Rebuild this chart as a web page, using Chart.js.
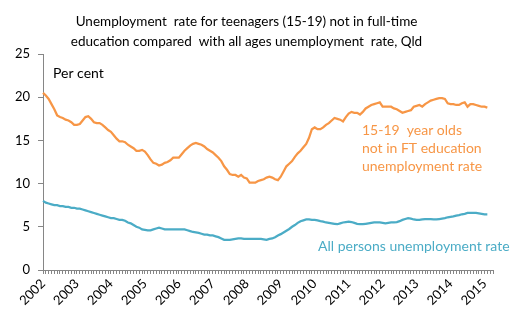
<!DOCTYPE html>
<html>
<head>
<meta charset="utf-8">
<script src="https://cdn.jsdelivr.net/npm/chart.js@4"></script>
<style>
  html, body { margin: 0; padding: 0; background: #fff; }
  #wrap { width: 525px; height: 333px; }
</style>
</head>
<body>
<div id="wrap"><canvas id="chart"></canvas></div>
<script>
// monthly, Jan 2002 .. Feb 2015 (axis runs on to Apr 2015)
var firstYear = 2002;
var monthCount = 160;

var teenRate = [
  20.5, 20.2, 19.8, 19.2, 18.6, 17.9, 17.7, 17.6, 17.4, 17.3, 17.1, 16.8,
  16.8, 16.9, 17.3, 17.7, 17.8, 17.5, 17.1, 17.0, 17.0, 16.8, 16.5, 16.2,
  16.0, 15.6, 15.2, 14.9, 14.9, 14.8, 14.5, 14.3, 14.1, 13.8, 13.8, 13.9,
  13.7, 13.3, 12.8, 12.4, 12.3, 12.1, 12.2, 12.4, 12.5, 12.7, 13.0, 13.0,
  13.0, 13.4, 13.8, 14.1, 14.4, 14.6, 14.7, 14.6, 14.5, 14.3, 14.0, 13.8,
  13.6, 13.3, 13.0, 12.6, 12.0, 11.6, 11.1, 11.0, 11.0, 10.8, 11.0, 10.7,
  10.6, 10.1, 10.1, 10.1, 10.3, 10.4, 10.5, 10.7, 10.8, 10.7, 10.5, 10.4,
  10.8, 11.4, 12.0, 12.3, 12.6, 13.1, 13.5, 13.8, 14.2, 14.6, 15.3, 16.3,
  16.5, 16.3, 16.3, 16.5, 16.8, 17.0, 17.3, 17.6, 17.5, 17.4, 17.2, 17.7,
  18.1, 18.3, 18.2, 18.2, 18.0, 18.3, 18.7, 18.9, 19.1, 19.2, 19.3, 19.4,
  18.9, 18.9, 18.9, 18.9, 18.7, 18.6, 18.4, 18.2, 18.3, 18.4, 18.5, 18.9,
  19.0, 19.1, 18.9, 19.2, 19.4, 19.6, 19.7, 19.8, 19.9, 19.9, 19.8, 19.3,
  19.2, 19.2, 19.1, 19.1, 19.3, 19.4, 18.9, 19.2, 19.2, 19.1, 19.0, 18.9,
  18.9, 18.8
];

var allRate = [
  8.0, 7.8, 7.7, 7.6, 7.5, 7.5, 7.4, 7.4, 7.3, 7.3, 7.2, 7.2,
  7.1, 7.1, 7.0, 6.9, 6.8, 6.7, 6.6, 6.5, 6.4, 6.3, 6.2, 6.1,
  6.0, 6.0, 5.9, 5.8, 5.8, 5.7, 5.5, 5.4, 5.2, 5.0, 4.9, 4.7,
  4.65, 4.6, 4.6, 4.7, 4.8, 4.9, 4.8, 4.7, 4.7, 4.7, 4.7, 4.7,
  4.7, 4.7, 4.7, 4.6, 4.5, 4.4, 4.35, 4.3, 4.2, 4.1, 4.1, 4.0,
  4.0, 3.9, 3.8, 3.65, 3.5, 3.5, 3.5, 3.55, 3.6, 3.65, 3.65, 3.6,
  3.6, 3.6, 3.6, 3.6, 3.6, 3.6, 3.55, 3.5, 3.6, 3.65, 3.8, 4.0,
  4.15, 4.35, 4.55, 4.75, 5.0, 5.2, 5.45, 5.65, 5.75, 5.85, 5.85, 5.8,
  5.8, 5.75, 5.65, 5.6, 5.5, 5.45, 5.4, 5.35, 5.3, 5.4, 5.5, 5.55,
  5.6, 5.55, 5.45, 5.35, 5.3, 5.3, 5.35, 5.4, 5.45, 5.5, 5.5, 5.5,
  5.45, 5.4, 5.45, 5.5, 5.5, 5.55, 5.65, 5.8, 5.9, 6.0, 5.95, 5.85,
  5.8, 5.8, 5.85, 5.9, 5.9, 5.9, 5.85, 5.85, 5.9, 5.95, 6.0, 6.1,
  6.15, 6.2, 6.3, 6.35, 6.45, 6.5, 6.6, 6.6, 6.6, 6.6, 6.55, 6.5,
  6.45, 6.45
];

var yTicks = [0, 5, 10, 15, 20, 25];

var labels = [];
for (var i = 0; i < monthCount; i++) {
  labels.push((firstYear + Math.floor(i / 12)) + '-' + (i % 12 + 1));
}

var orange = '#F79646';
var teal = '#4BACC6';
var axisGrey = '#868686';
var font = 'Lato, "Open Sans", sans-serif';

// text inside the plot: "Per cent" and the two series labels
var notes = {
  id: 'notes',
  afterDatasetsDraw: function (chart) {
    var ctx = chart.ctx;
    var x = chart.scales.x, y = chart.scales.y;
    ctx.save();
    ctx.font = '14px ' + font;
    ctx.textBaseline = 'middle';
    ctx.textAlign = 'left';

    ctx.fillStyle = '#000';
    ctx.fillText('Per cent', chart.chartArea.left + 10, y.getPixelForValue(22.8));

    ctx.fillStyle = orange;
    var ox = x.getPixelForValue(112.7);
    var oy = y.getPixelForValue(16.2);
    ['15-19  year olds', 'not in FT education', 'unemployment rate'].forEach(function (t, k) {
      ctx.fillText(t, ox, oy + k * 18);
    });

    ctx.fillStyle = teal;
    ctx.fillText('All persons unemployment rate', x.getPixelForValue(97.2), y.getPixelForValue(2.7));
    ctx.restore();
  }
};

new Chart(document.getElementById('chart'), {
  type: 'line',
  data: {
    labels: labels,
    datasets: [{
      label: '15-19 year olds not in FT education unemployment rate',
      data: teenRate,
      borderColor: orange,
      borderWidth: 2.25,
      pointRadius: 0,
      tension: 0
    }, {
      label: 'All persons unemployment rate',
      data: allRate,
      borderColor: teal,
      borderWidth: 2.25,
      pointRadius: 0,
      tension: 0
    }]
  },
  options: {
    responsive: true,
    maintainAspectRatio: false,
    animation: false,
    layout: { padding: { left: 0, right: 32, top: 0, bottom: 0 } },
    plugins: {
      legend: { display: false },
      tooltip: { enabled: false },
      title: {
        display: true,
        text: ['Unemployment  rate for teenagers (15-19) not in full-time',
               'education compared  with all ages unemployment  rate, Qld'],
        color: '#000',
        font: { family: font, size: 13.5, weight: 'normal', lineHeight: '20px' },
        padding: { top: 12, bottom: 2 }
      }
    },
    scales: {
      x: {
        offset: false,
        grid: { drawOnChartArea: false, drawTicks: true, tickLength: 4, color: axisGrey },
        border: { color: axisGrey, width: 1 },
        ticks: {
          autoSkip: false,
          minRotation: 45,
          maxRotation: 45,
          padding: 2,
          color: '#000',
          font: { family: font, size: 13 },
          callback: function (v, i) {
            return i % 12 === 0 ? String(firstYear + i / 12) : '';
          }
        },
        afterFit: function (s) { s.height = 63; }
      },
      y: {
        min: 0,
        max: 25,
        afterBuildTicks: function (s) {
          s.ticks = yTicks.map(function (v) { return { value: v }; });
        },
        grid: { drawOnChartArea: false, drawTicks: true, tickLength: 5, color: axisGrey },
        border: { color: axisGrey, width: 1 },
        ticks: { color: '#000', padding: 8, font: { family: font, size: 13 } },
        afterFit: function (s) { s.width = 43; }
      }
    }
  },
  plugins: [notes]
});
</script>
</body>
</html>
